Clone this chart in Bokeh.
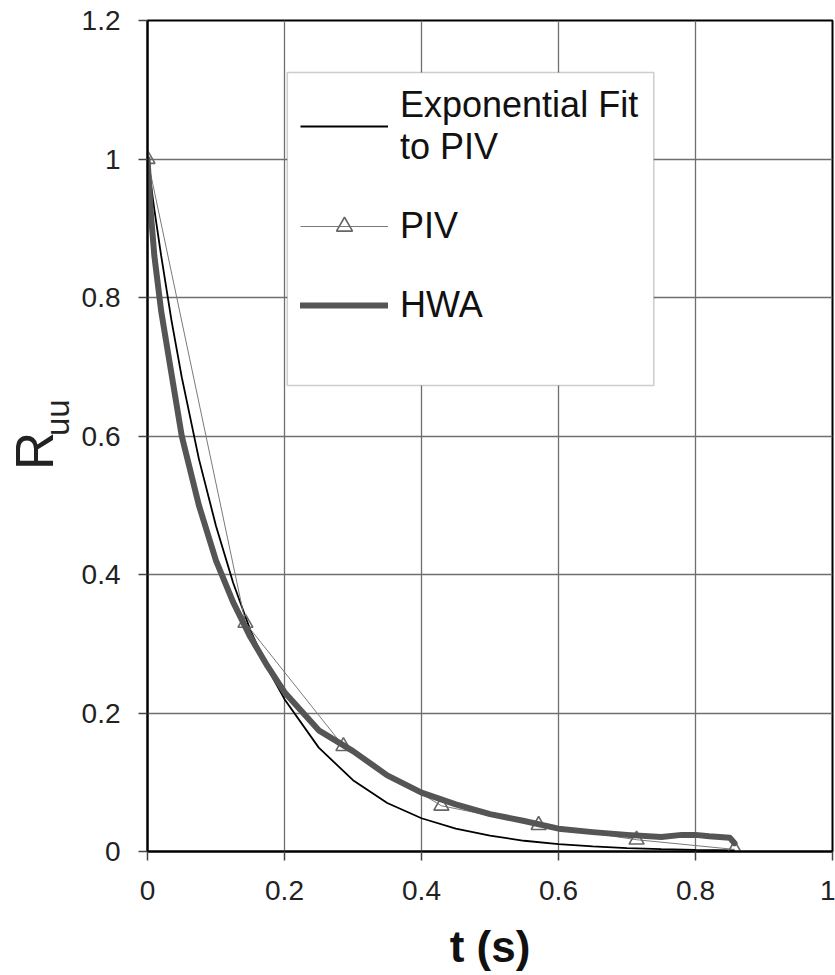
from bokeh.plotting import figure
from bokeh.layouts import row
from bokeh.models import FixedTicker, Label, Legend, LegendItem, Range1d, BoxAnnotation
from bokeh.embed import file_html
from bokeh.resources import INLINE

# ---- data ----
x_ticks = [0, 0.2, 0.4, 0.6, 0.8, 1.0]
x_tick_labels = ["0", "0.2", "0.4", "0.6", "0.8", "1"]
y_ticks = [0, 0.2, 0.4, 0.6, 0.8, 1.0, 1.2]
y_tick_labels = ["0", "0.2", "0.4", "0.6", "0.8", "1", "1.2"]

piv_t = [0.0, 0.143, 0.286, 0.429, 0.571, 0.714, 0.857]
piv_r = [1.0, 0.33, 0.152, 0.066, 0.038, 0.017, 0.003]

fit_t = [0.0, 0.01, 0.02, 0.035, 0.05, 0.075, 0.1, 0.125, 0.15, 0.175, 0.2, 0.25,
         0.3, 0.35, 0.4, 0.45, 0.5, 0.55, 0.6, 0.65, 0.7, 0.75, 0.8, 0.857]
fit_r = [1.0, 0.927, 0.86, 0.767, 0.685, 0.567, 0.47, 0.388, 0.32, 0.265, 0.22, 0.15,
         0.103, 0.07, 0.048, 0.033, 0.023, 0.0155, 0.0106, 0.0073, 0.005, 0.0034, 0.0023, 0.0015]

hwa_t = [0.0, 0.005, 0.01, 0.02, 0.03, 0.05, 0.075, 0.1, 0.125, 0.15, 0.175, 0.2,
         0.25, 0.3, 0.35, 0.4, 0.45, 0.5, 0.55, 0.6, 0.65, 0.7, 0.75, 0.78, 0.8,
         0.82, 0.85, 0.857]
hwa_r = [1.0, 0.92, 0.86, 0.78, 0.72, 0.6, 0.5, 0.42, 0.36, 0.31, 0.268, 0.23,
         0.175, 0.145, 0.11, 0.085, 0.068, 0.054, 0.044, 0.033, 0.028, 0.024, 0.021,
         0.024, 0.024, 0.022, 0.02, 0.012]

x_title = "t (s)"
y_title_main = "R"
y_title_sub = "uu"
legend_labels = ["Exponential Fit\nto PIV", "PIV", "HWA"]

FONT = "Liberation Sans"
H = 975
LW = 78  # width of the strip holding the y-axis title

p = figure(width=835 - LW, height=H, x_range=Range1d(0, 1), y_range=Range1d(0, 1.2),
           output_backend="svg", toolbar_location=None,
           min_border_left=146 - LW, min_border_right=3, min_border_top=20,
           min_border_bottom=124)

p.background_fill_color = "white"
p.border_fill_color = "white"
p.outline_line_color = "black"
p.outline_line_width = 2

for ax, ticks, labels in ((p.xaxis[0], x_ticks, x_tick_labels), (p.yaxis[0], y_ticks, y_tick_labels)):
    ax.ticker = FixedTicker(ticks=ticks, minor_ticks=[])
    ax.major_label_overrides = {t: l for t, l in zip(ticks, labels)}
    ax.axis_line_color = "black"
    ax.axis_line_width = 2
    ax.major_tick_line_color = "#444444"
    ax.major_tick_line_width = 1.5
    ax.major_tick_out = 9
    ax.major_tick_in = 0
    ax.minor_tick_line_color = None
    ax.major_label_text_font = FONT
    ax.major_label_text_font_size = "28px"
    ax.major_label_text_color = "#222222"

p.yaxis[0].major_label_standoff = 18
p.xaxis[0].major_label_standoff = 20

p.xaxis[0].axis_label = x_title
p.xaxis[0].axis_label_text_font = FONT
p.xaxis[0].axis_label_text_font_size = "44px"
p.xaxis[0].axis_label_text_font_style = "bold"
p.xaxis[0].axis_label_text_color = "#111111"
p.xaxis[0].axis_label_standoff = 19

p.xgrid.ticker = FixedTicker(ticks=x_ticks)
p.ygrid.ticker = FixedTicker(ticks=y_ticks)
p.grid.grid_line_color = "#6f6f6f"
p.grid.grid_line_width = 1.3

fit_line = p.line(fit_t, fit_r, line_color="black", line_width=1.8)
piv_line = p.line(piv_t, piv_r, line_color="#7a7a7a", line_width=1)
piv_pts = p.scatter(piv_t, piv_r, marker="triangle", size=15, line_color="#666666",
                    line_width=1.6, fill_alpha=0)
hwa_line = p.line(hwa_t, hwa_r, line_color="#555555", line_width=6, line_join="round",
                  line_cap="round")

# legend frame (white panel with grey border, covering the grid)
p.add_layout(BoxAnnotation(left=(286 - 146) / 686, right=(653 - 146) / 686,
                           top=(851 - 72) / 831 * 1.2, bottom=(851 - 385) / 831 * 1.2,
                           fill_color="white", fill_alpha=1, line_color="#5a5a5a",
                           line_width=1.5, level="annotation"))

legend = Legend(items=[
    LegendItem(label=legend_labels[0], renderers=[fit_line]),
    LegendItem(label=legend_labels[1], renderers=[piv_line, piv_pts]),
    LegendItem(label=legend_labels[2], renderers=[hwa_line]),
], location=(153, 525))
legend.label_text_font = FONT
legend.label_text_font_size = "36px"
legend.label_text_color = "#111111"
legend.glyph_width = 88
legend.glyph_height = 40
legend.label_standoff = 12
legend.padding = 12
legend.spacing = 37
legend.margin = 0
legend.border_line_color = None
legend.background_fill_alpha = 0
p.add_layout(legend)

# strip with the y-axis title R_uu
ylab = figure(width=LW, height=H, x_range=Range1d(0, LW), y_range=Range1d(0, H),
              output_backend="svg", toolbar_location=None,
              x_axis_location=None, y_axis_location=None,
              min_border=0, min_border_left=0, min_border_right=0,
              min_border_top=0, min_border_bottom=0)
ylab.outline_line_color = None
ylab.grid.visible = False
ylab.add_layout(Label(x=34, y=H - 451 - 54, text=y_title_main, angle=1.5708, text_font=FONT,
                      text_font_size="53px", text_color="#222222", text_align="center",
                      text_baseline="middle"))
ylab.add_layout(Label(x=57, y=H - 412 - 54, text=y_title_sub, angle=1.5708, text_font=FONT,
                      text_font_size="33px", text_color="#222222", text_align="center",
                      text_baseline="middle"))

layout = row(ylab, p, spacing=0)
open("out.html", "w").write(file_html(layout, INLINE))
